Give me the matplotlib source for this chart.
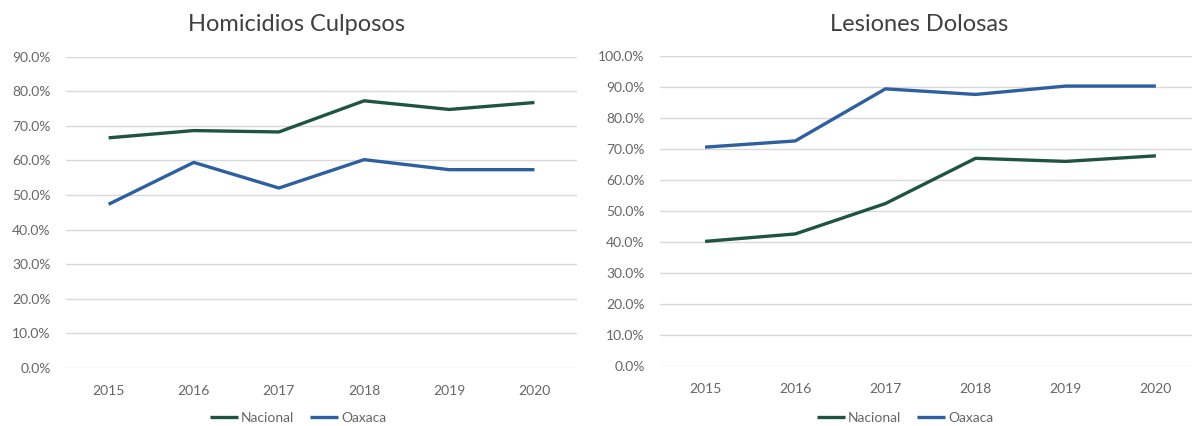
import matplotlib
matplotlib.use("Agg")
import matplotlib.pyplot as plt
from matplotlib.ticker import PercentFormatter, MultipleLocator

plt.rcParams['font.family'] = ['Lato', 'DejaVu Sans']
plt.rcParams['font.weight'] = 'normal'

years = ["2015", "2016", "2017", "2018", "2019", "2020"]

hom_nacional = [66.5, 68.6, 68.2, 77.2, 74.7, 76.7]
hom_oaxaca = [47.3, 59.4, 52.0, 60.2, 57.3, 57.3]

les_nacional = [40.2, 42.6, 52.4, 67.0, 66.0, 67.8]
les_oaxaca = [70.6, 72.6, 89.4, 87.6, 90.3, 90.3]

titles = ["Homicidios Culposos", "Lesiones Dolosas"]
series_names = ["Nacional", "Oaxaca"]

C_NAC = "#1F5443"
C_OAX = "#2E5F9F"
GRID = "#D9D9D9"
TXT = "#666666"
TITLE = "#404040"

W, H = 1192, 426
fig = plt.figure(figsize=(W / 100, H / 100), dpi=100)

def px_rect(x0, x1, ytop, ybot):
    return [x0 / W, (H - ybot) / H, (x1 - x0) / W, (ybot - ytop) / H]

ax1 = fig.add_axes(px_rect(66, 577, 56.5, 368))
ax2 = fig.add_axes(px_rect(660, 1201, 56, 366))

configs = [
    (ax1, hom_nacional, hom_oaxaca, 90),
    (ax2, les_nacional, les_oaxaca, 100),
]

xs = list(range(len(years)))
for ax, nac, oax, ymax in configs:
    ax.plot(xs, nac, color=C_NAC, lw=2.4, solid_capstyle='butt', label=series_names[0], zorder=3)
    ax.plot(xs, oax, color=C_OAX, lw=2.4, solid_capstyle='butt', label=series_names[1], zorder=3)
    ax.set_xlim(-0.5, len(years) - 0.5)
    ax.set_ylim(0, ymax)
    ax.yaxis.set_major_locator(MultipleLocator(10))
    ax.yaxis.set_major_formatter(PercentFormatter(100, decimals=1))
    ax.set_xticks(xs)
    ax.set_xticklabels(years)
    ax.grid(axis='y', color=GRID, lw=1.0)
    ax.set_axisbelow(True)
    for s in ax.spines.values():
        s.set_visible(False)
    ax.tick_params(axis='both', length=0, colors=TXT, labelsize=10)
    ax.tick_params(axis='y', pad=11)
    ax.tick_params(axis='x', pad=12)

fig.text(297 / W, (H - 31) / H, titles[0], ha='center', va='baseline',
         fontsize=17, color=TITLE)
fig.text(919 / W, (H - 31) / H, titles[1], ha='center', va='baseline',
         fontsize=17, color=TITLE)

for ax, cx in [(ax1, 298), (ax2, 905)]:
    handles, labels = ax.get_legend_handles_labels()
    fig.legend(handles, labels, loc='center', bbox_to_anchor=(cx / W, (H - 418) / H),
               ncol=2, frameon=False, fontsize=10, handlelength=2.0,
               handletextpad=0.2, columnspacing=1.2, labelcolor=TXT)

fig.savefig("out.png", dpi=100)
